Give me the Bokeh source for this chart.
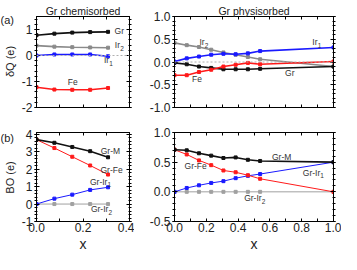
import math
from bokeh.plotting import figure
from bokeh.layouts import column, row
from bokeh.models import (FixedTicker, NumeralTickFormatter, LinearAxis, Span, Range1d)
from bokeh.embed import file_html
from bokeh.resources import INLINE
from bokeh.core.properties import value

FONT = "Liberation Sans"

# ---------------- data ----------------
x_chem = [0, 1/13, 2/13, 3/13, 4/13]
x_phys = [0, 1/13, 2/13, 3/13, 4/13, 5/13, 6/13, 7/13, 1.0]

dq_chem_gr = [0.78, 0.84, 0.88, 0.90, 0.91]
dq_chem_ir2 = [0.38, 0.34, 0.32, 0.31, 0.30]
dq_chem_ir1 = [0.00, 0.04, 0.04, 0.04, -0.03]
dq_chem_fe = [-1.22, -1.31, -1.32, -1.32, -1.25]

dq_phys_gr = [-0.02, -0.05, -0.10, -0.13, -0.16, -0.16, -0.16, -0.15, -0.10]
dq_phys_ir2 = [0.42, 0.37, 0.33, 0.27, 0.21, 0.16, 0.11, 0.06, -0.10]
dq_phys_ir1 = [0.01, 0.08, 0.12, 0.16, 0.18, 0.17, 0.19, 0.24, 0.32]
dq_phys_fe = [-0.29, -0.29, -0.22, -0.17, -0.10, -0.06, -0.02, -0.05, 0.01]

bo_chem_grm = [3.69, 3.51, 3.27, 3.03, 2.68]
bo_chem_grfe = [3.69, 3.21, 2.71, 2.21, 1.69]
bo_chem_grir1 = [0.00, 0.31, 0.54, 0.81, 0.96]
bo_chem_grir2 = [0.0, 0.0, 0.0, 0.0, 0.0]

bo_phys_grm = [0.71, 0.70, 0.65, 0.61, 0.57, 0.58, 0.54, 0.52, 0.50]
bo_phys_grfe = [0.71, 0.63, 0.53, 0.45, 0.36, 0.33, 0.28, 0.22, 0.00]
bo_phys_grir1 = [0.00, 0.065, 0.11, 0.15, 0.18, 0.23, 0.27, 0.30, 0.50]
bo_phys_grir2 = [0.0, 0.0, 0.0, 0.0, 0.0, 0.0, 0.0, 0.0, 0.0]

x_ticks_chem = [0.0, 0.2, 0.4]
x_minor_chem = [0.1, 0.3]
x_ticks_phys = [0.0, 0.2, 0.4, 0.6, 0.8, 1.0]
x_minor_phys = [0.1, 0.3, 0.5, 0.7, 0.9]

BLACK = "#111111"
GRAY = "#8a8a8a"
LGRAY = "#a0a0a0"
BLUE = "#1a1aff"
RED = "#ff1a1a"
TXT = "#333333"
DARK = "#222222"

# layout (pixels)
TAG_W = 18
H_TOP = 119
H_BOT = 135


def frange(a, b, step):
    n = int(round((b - a) / step))
    return [round(a + i * step, 6) for i in range(n + 1)]


def make_fig(w, h, xr, yr, left, right, top, bottom, title=None):
    p = figure(width=w, height=h, x_range=Range1d(*xr), y_range=Range1d(*yr),
               output_backend="svg", toolbar_location=None,
               min_border_left=left, min_border_right=right,
               min_border_top=top, min_border_bottom=bottom,
               background_fill_color="white", border_fill_color="white")
    p.grid.visible = False
    p.outline_line_color = "black"
    p.outline_line_alpha = 1.0
    p.outline_line_width = 1
    if title:
        p.title.text = title
        p.title.align = "center"
        p.title.text_font = FONT
        p.title.text_font_size = "10.5px"
        p.title.text_font_style = "normal"
        p.title.text_color = DARK
        p.title.standoff = 0
        p.title.offset = 0
    return p


def style_axis(ax, major, minor, fmt, show_labels, xdir):
    ax.ticker = FixedTicker(ticks=major, minor_ticks=minor)
    ax.formatter = NumeralTickFormatter(format=fmt)
    ax.axis_line_color = "black"
    ax.major_tick_line_color = "black"
    ax.minor_tick_line_color = "black"
    if xdir:
        ax.major_tick_in = 3
        ax.major_tick_out = 0
        ax.minor_tick_in = 3
        ax.minor_tick_out = 0
    else:
        ax.major_tick_in = 3
        ax.major_tick_out = 2
        ax.minor_tick_in = 1
        ax.minor_tick_out = 2
    ax.major_label_text_font = FONT
    if show_labels:
        ax.major_label_text_color = DARK
        ax.major_label_text_font_size = "12px"
        ax.major_label_standoff = 2 if not xdir else 1
    else:
        ax.major_label_text_color = None
        ax.major_label_text_font_size = "1px"
        ax.major_label_standoff = 0


def setup_axes(p, xmaj, xmin, xfmt, ymaj, ymin, yfmt, xlabels):
    xb = p.below[0]
    yl = p.left[0]
    style_axis(xb, xmaj, xmin, xfmt, xlabels, True)
    style_axis(yl, ymaj, ymin, yfmt, True, False)
    top = LinearAxis()
    style_axis(top, xmaj, xmin, xfmt, False, True)
    p.add_layout(top, "above")
    right = LinearAxis()
    style_axis(right, ymaj, ymin, yfmt, False, False)
    p.add_layout(right, "right")
    return xb, yl


def series(p, x, y, color, lw):
    p.line(x, y, line_color=color, line_width=lw)
    p.scatter(x, y, marker="square", size=3, fill_color=color, line_color=color)


def txt(p, x, y, s, sub=None, align="center", sub_dx=0.0, size="8.5px"):
    p.text([x], [y], text=[s], text_font=value(FONT), text_font_size=size,
           text_color=TXT, text_align=align, text_baseline="middle")
    if sub is not None:
        p.text([x], [y], text=[sub], text_font=value(FONT), text_font_size="6.5px",
               text_color=TXT, text_align="left", text_baseline="middle",
               x_offset=sub_dx, y_offset=3)


def axis_label(ax, text, size, standoff):
    ax.axis_label = text
    ax.axis_label_text_font = FONT
    ax.axis_label_text_font_size = size
    ax.axis_label_text_font_style = "normal"
    ax.axis_label_text_color = DARK
    ax.axis_label_standoff = standoff


# ---------------- panel (a) chemisorbed ----------------
p1 = make_fig(116, H_TOP, (0, 0.4), (-2, 1.5), 18, 5, 16, 12, "Gr chemisorbed")
x1, y1 = setup_axes(p1, x_ticks_chem, x_minor_chem, "0.0", [-2, -1, 0, 1], frange(-2, 1.4, 0.2), "0", False)
p1.add_layout(Span(location=0, dimension="width", line_color="#b0b0b0", line_dash="2 2", line_width=1))
series(p1, x_chem, dq_chem_gr, BLACK, 1.6)
series(p1, x_chem, dq_chem_ir2, GRAY, 1.6)
series(p1, x_chem, dq_chem_ir1, BLUE, 1.6)
series(p1, x_chem, dq_chem_fe, RED, 1.6)
txt(p1, 0.356, 0.96, "Gr")
txt(p1, 0.337, 0.39, "Ir", "2", align="left", sub_dx=5.3)
txt(p1, 0.290, -0.18, "Ir", "1", align="left", sub_dx=5.3)
txt(p1, 0.156, -1.01, "Fe")

p2 = make_fig(207, H_TOP, (0, 1), (-1, 1), 40, 8, 16, 12, "Gr physisorbed")
setup_axes(p2, x_ticks_phys, x_minor_phys, "0.0", [-1, -0.5, 0, 0.5, 1], frange(-1, 1, 0.1), "0.0", False)
p2.add_layout(Span(location=0, dimension="width", line_color="#b0b0b0", line_dash="2 2", line_width=1))
series(p2, x_phys, dq_phys_ir2, GRAY, 1.6)
series(p2, x_phys, dq_phys_gr, BLACK, 1.6)
series(p2, x_phys, dq_phys_fe, RED, 1.6)
series(p2, x_phys, dq_phys_ir1, BLUE, 1.6)
txt(p2, 0.157, 0.43, "Ir", "2", align="left", sub_dx=5.3)
txt(p2, 0.142, -0.375, "Fe")
txt(p2, 0.867, 0.43, "Ir", "1", align="left", sub_dx=5.3)
txt(p2, 0.725, -0.24, "Gr")

# ---------------- panel (b) bond order ----------------
p3 = make_fig(116, H_BOT, (0, 0.4), (-1, 4.1), 18, 5, 13, 32)
x3, y3 = setup_axes(p3, x_ticks_chem, x_minor_chem, "0.0", [-1, 0, 1, 2, 3, 4], frange(-1, 4, 0.2), "0", True)
series(p3, x_chem, bo_chem_grir2, LGRAY, 1.0)
series(p3, x_chem, bo_chem_grir1, BLUE, 1.0)
series(p3, x_chem, bo_chem_grfe, RED, 1.0)
series(p3, x_chem, bo_chem_grm, BLACK, 1.6)
axis_label(x3, "x", "14px", 1)
txt(p3, 0.318, 3.04, "Gr-M")
txt(p3, 0.323, 1.93, "Gr-Fe")
txt(p3, 0.230, 1.27, "Gr-Ir", "1", align="left", sub_dx=17.5)
txt(p3, 0.234, -0.29, "Gr-Ir", "2", align="left", sub_dx=17.5)

p4 = make_fig(207, H_BOT, (0, 1), (-0.5, 1.0), 40, 8, 13, 32)
x4, y4 = setup_axes(p4, x_ticks_phys, x_minor_phys, "0.0", [-0.5, 0, 0.5, 1.0], frange(-0.5, 1.0, 0.1), "0.0", True)
series(p4, x_phys, bo_phys_grir2, LGRAY, 1.0)
series(p4, x_phys, bo_phys_grir1, BLUE, 1.0)
series(p4, x_phys, bo_phys_grfe, RED, 1.0)
series(p4, x_phys, bo_phys_grm, BLACK, 1.6)
axis_label(x4, "x", "14px", 1)
txt(p4, 0.674, 0.58, "Gr-M")
txt(p4, 0.133, 0.44, "Gr-Fe")
txt(p4, 0.807, 0.32, "Gr-Ir", "1", align="left", sub_dx=17.5)
txt(p4, 0.438, -0.11, "Gr-Ir", "2", align="left", sub_dx=17.5)

# ---------------- left strip: panel tags and y-axis titles ----------------
H_ALL = H_TOP + H_BOT
tag = figure(width=TAG_W, height=H_ALL, x_range=Range1d(0, TAG_W), y_range=Range1d(0, H_ALL),
             output_backend="svg", toolbar_location=None, min_border=0,
             x_axis_type=None, y_axis_type=None,
             background_fill_color="white", border_fill_color="white")
tag.grid.visible = False
tag.outline_line_color = None
tag_text = ["(a)", "(b)"]
tag_y = [H_ALL - 19, H_ALL - 137]
tag.text([0, 0], tag_y, text=tag_text, text_font=value(FONT), text_font_size="11px",
         text_color=DARK, text_align="left", text_baseline="middle")
ylab_text = ["δQ (e)", "BO (e)"]
ylab_y = [H_ALL - 61, H_ALL - 177]
tag.text([9, 9], ylab_y, text=ylab_text, text_font=value(FONT), text_font_size="11px",
         text_color=DARK, text_align="center", text_baseline="middle", angle=math.pi / 2)

grid = column(row(p1, p2, spacing=0), row(p3, p4, spacing=0), spacing=0)
layout = row(tag, grid, spacing=0)

open("out.html", "w").write(file_html(layout, INLINE))
